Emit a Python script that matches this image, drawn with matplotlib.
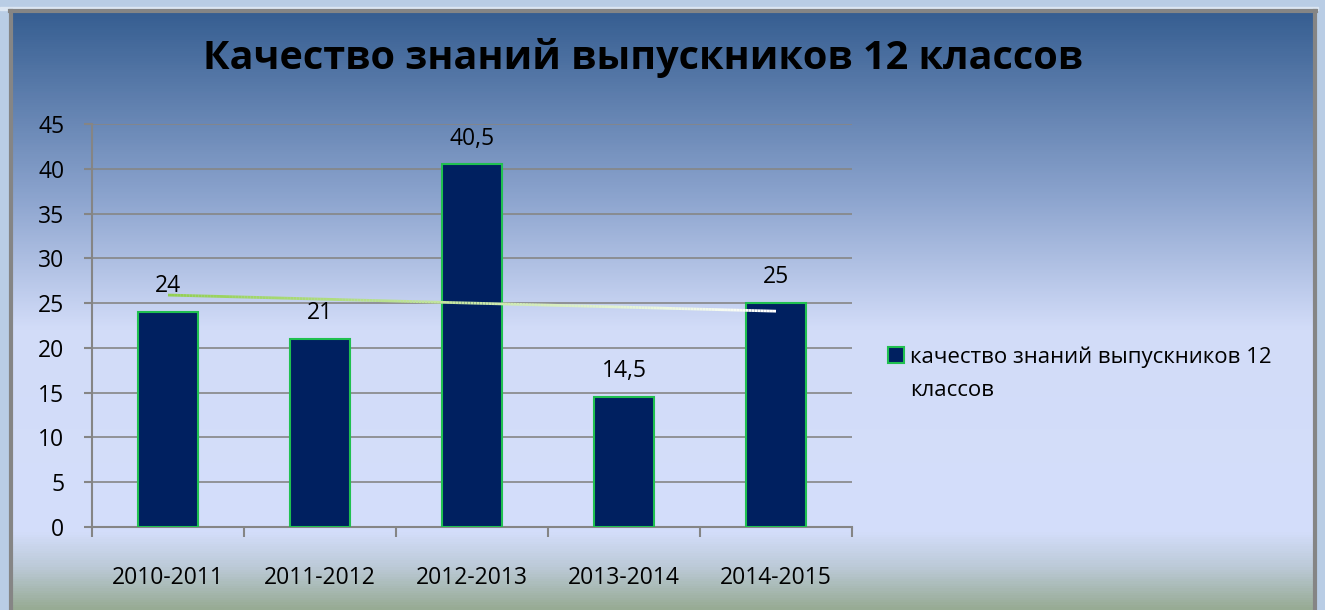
import numpy as np
import matplotlib
matplotlib.use("Agg")
import matplotlib.pyplot as plt
from matplotlib.colors import LinearSegmentedColormap
from matplotlib.collections import LineCollection
from matplotlib.patches import Rectangle

# Данные
years = ["2010-2011", "2011-2012", "2012-2013", "2013-2014", "2014-2015"]
quality = [24, 21, 40.5, 14.5, 25]
labels = ["24", "21", "40,5", "14,5", "25"]
series_name = ["качество знаний выпускников 12", "классов"]
title = "Качество знаний выпускников 12 классов"

plt.rcParams["font.family"] = ["Open Sans", "DejaVu Sans"]

W, H = 1325, 610
fig = plt.figure(figsize=(W / 100, H / 100), dpi=100)
fig.patch.set_facecolor("#b9cde5")

# фон рамки с градиентом
bg = fig.add_axes([0, 0, 1, 1])
bg.set_xlim(0, W)
bg.set_ylim(H, 0)
bg.axis("off")
stops = [(0.0, "#365e91"), (0.31, "#8ca4ce"), (0.53, "#d2dcf8"),
         (0.87, "#d4defb"), (0.93, "#bccad8"), (1.0, "#97ab94")]
cmap = LinearSegmentedColormap.from_list("bg", stops)
grad = np.linspace(0, 1, 600).reshape(-1, 1)
bg.imshow(grad, cmap=cmap, aspect="auto", extent=[11, 1315, H, 11], zorder=1)
bg.add_patch(Rectangle((0, 7), 1318, 3, color="#dce6f2", zorder=0))
bg.plot([11, 11], [11, H], color="#858585", lw=3, zorder=2)
bg.plot([10, 1316], [11, 11], color="#858585", lw=3, zorder=2)
bg.plot([1315, 1315], [11, H], color="#858585", lw=3, zorder=2)

ax = fig.add_axes([92 / W, 1 - 527 / H, 760 / W, 403 / H])
ax.set_facecolor("none")
x = np.arange(len(years))
ax.bar(x, quality, width=0.395, color="#002060", edgecolor="#20c050",
       linewidth=1.5, zorder=3, label=series_name[0])

for xi, v, t in zip(x, quality, labels):
    ax.annotate(t, (xi, v), textcoords="offset points", xytext=(0, 18.5),
                ha="center", va="center", fontsize=16.5, color="black", zorder=5)

# линия тренда
k, b = np.polyfit(x, quality, 1)
xs = np.linspace(x[0], x[-1], 200)
ys = k * xs + b
pts = np.array([xs, ys]).T.reshape(-1, 1, 2)
segs = np.concatenate([pts[:-1], pts[1:]], axis=1)
tcmap = LinearSegmentedColormap.from_list("tr", ["#92d050", "#ffffff"])
lc = LineCollection(segs, colors=tcmap(np.linspace(0, 1, len(segs))),
                    linewidth=2, zorder=4)
ax.add_collection(lc)

ax.set_xlim(-0.5, len(years) - 0.5)
ax.set_ylim(0, 45)
ax.set_yticks(range(0, 46, 5))
ax.set_xticks(x)
ax.set_xticklabels(years)
ax.set_xticks(np.arange(-0.5, len(years)), minor=True)
ax.tick_params(axis="x", which="major", length=0, pad=28, labelsize=16.5)
ax.tick_params(axis="x", which="minor", length=7, color="#858585", width=1.5)
ax.tick_params(axis="y", length=6, color="#858585", width=1.5, labelsize=16.5, pad=14)
ax.grid(axis="y", color="#868686", linewidth=1.2, zorder=0)
for s in ["top", "right"]:
    ax.spines[s].set_visible(False)
for s in ["left", "bottom"]:
    ax.spines[s].set_color("#858585")
    ax.spines[s].set_linewidth(1.5)

fig.text(643 / W, 1 - 58 / H, title, ha="center", va="center",
         fontsize=28.5, fontweight="bold", color="black")

# легенда: значок у первой строки, вторая строка отдельно
leg = ax.legend(loc="center left", bbox_to_anchor=(796 / 760, (527 - 357) / 403),
                frameon=False, fontsize=16, handlelength=0.7, handleheight=0.7,
                handletextpad=0.3, borderaxespad=0, borderpad=0)
fig.canvas.draw()
tx = leg.get_texts()[0].get_window_extent().x0
fig.text(tx / W, 1 - 390 / H, series_name[1], ha="left", va="center",
         fontsize=16, color="black")

fig.savefig("out.png", dpi=100)
